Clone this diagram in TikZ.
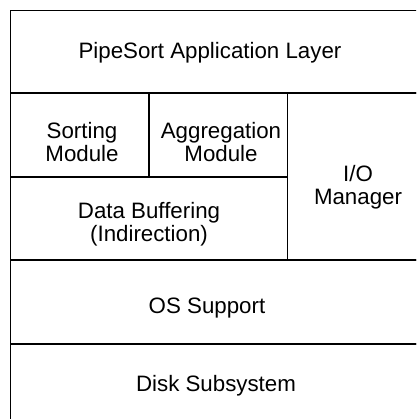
\documentclass[tikz,border=0pt]{standalone}
\usepackage{fontspec}
\setmainfont{Liberation Sans}
\begin{document}
\begin{tikzpicture}[x=1pt,y=-1pt,
  layer/.style={draw, line width=1.8pt, inner sep=0pt, outer sep=0pt, anchor=north west},
  lbl/.style={font=\fontsize{22.3}{23}\selectfont, align=center, inner sep=0pt}]
\useasboundingbox (0,0) rectangle (416,419);
\clip (0,0) rectangle (416,419);
% layers
\node[layer, minimum width=419.5pt, minimum height=82.5pt] (app) at (10.5,10.5) {};
\node[layer, minimum width=138.5pt, minimum height=84pt] (sort) at (10.5,93) {};
\node[layer, minimum width=138.5pt, minimum height=84pt] (agg) at (149,93) {};
\node[layer, minimum width=142.5pt, minimum height=167pt] (io) at (287.5,93) {};
\node[layer, minimum width=277pt, minimum height=83pt] (buf) at (10.5,177) {};
\node[layer, minimum width=419.5pt, minimum height=84pt] (os) at (10.5,260) {};
\node[layer, minimum width=419.5pt, minimum height=83pt] (disk) at (10.5,344) {};
% labels
\node[lbl] (tapp) at (210,52.5) {PipeSort Application Layer};
\node[lbl] (tsort) at (82,142) {Sorting\\Module};
\node[lbl] (tagg) at (221,142) {Aggregation\\Module};
\node[lbl] (tio) at (358,187) {I/O\\Manager};
\node[lbl] (tbuf) at (149,224) {Data Buffering\\(Indirection)};
\node[lbl] (tos) at (207,308) {OS Support};
\node[lbl] (tdisk) at (216,386) {Disk Subsystem};
\end{tikzpicture}
\end{document}
